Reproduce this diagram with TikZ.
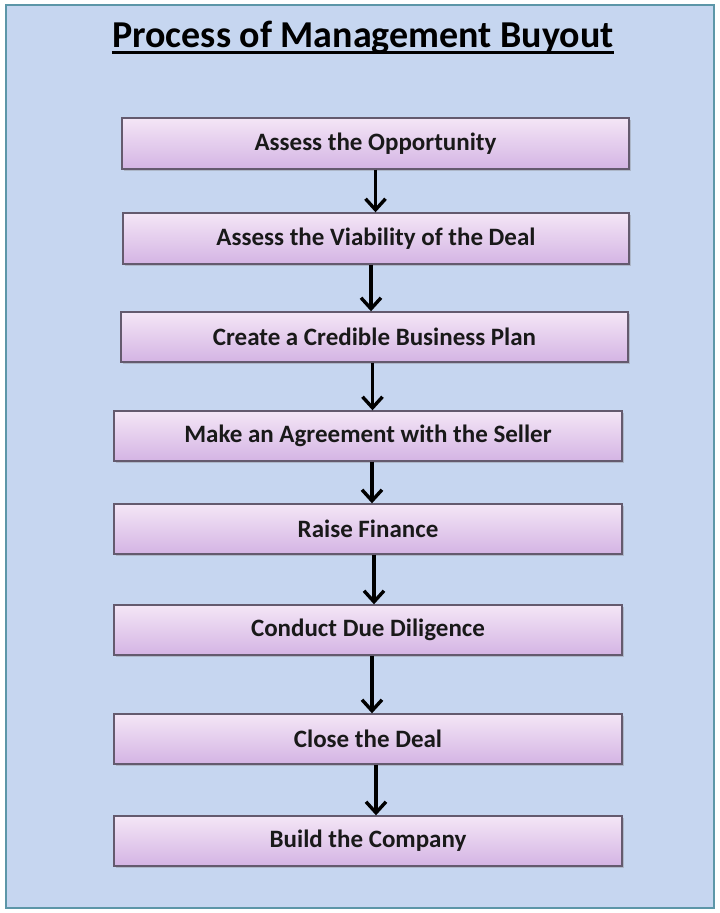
\documentclass[tikz,border=0pt]{standalone}
\usepackage{fontspec}
\setmainfont{Carlito}
\usetikzlibrary{arrows.meta,shadows}
\definecolor{bgfill}{RGB}{198,214,240}
\definecolor{frameline}{RGB}{92,150,168}
\definecolor{boxtop}{RGB}{244,230,246}
\definecolor{boxbot}{RGB}{212,180,228}
\definecolor{boxline}{RGB}{100,90,110}
\tikzset{
  stepbox/.style={draw=boxline, line width=1.4pt, top color=boxtop, bottom color=boxbot,
    minimum height=50pt, inner sep=0pt, font=\bfseries\fontsize{25}{28}\selectfont,
    text=black!90, drop shadow={shadow xshift=2pt, shadow yshift=-2pt, opacity=0.35}},
  flowarrow/.style={line width=3.4pt, -{Straight Barb[length=11pt,width=20pt]}}
}
\begin{document}
\begin{tikzpicture}[x=1pt,y=-1pt]
\useasboundingbox (0,0) rectangle (720,913);
\fill[white] (0,0) rectangle (720,913);
\draw[frameline, line width=2.4pt, fill=bgfill] (6,5) rectangle (714,908);
\node[font=\bfseries\fontsize{38}{42}\selectfont, inner sep=0pt, anchor=base] (title) at (363,47) {Process of Management Buyout};
\draw[line width=2.5pt] ([yshift=-5.5pt]title.base west) -- ([yshift=-5.5pt]title.base east);
\node[stepbox, minimum width=507pt, minimum height=51pt] (b1) at (375.5,143.5) {Assess the Opportunity};
\node[stepbox, minimum width=506pt, minimum height=51pt] (b2) at (376,238.5) {Assess the Viability of the Deal};
\node[stepbox, minimum width=507pt] (b3) at (374.5,337) {Create a Credible Business Plan};
\node[stepbox, minimum width=508pt] (b4) at (368,436) {Make an Agreement with the Seller};
\node[stepbox, minimum width=508pt] (b5) at (368,529) {Raise Finance};
\node[stepbox, minimum width=508pt] (b6) at (368,630) {Conduct Due Diligence};
\node[stepbox, minimum width=508pt] (b7) at (368,739) {Close the Deal};
\node[stepbox, minimum width=508pt] (b8) at (368,841) {Build the Company};
\draw[flowarrow] (b1.south) -- (b1.south |- b2.north);
\draw[flowarrow] ([xshift=-5pt]b2.south) -- ([xshift=-5pt]b2.south |- b3.north);
\draw[flowarrow] ([xshift=-2pt]b3.south) -- ([xshift=-2pt]b3.south |- b4.north);
\draw[flowarrow] ([xshift=4pt]b4.south) -- ([xshift=4pt]b4.south |- b5.north);
\draw[flowarrow] ([xshift=6pt]b5.south) -- ([xshift=6pt]b5.south |- b6.north);
\draw[flowarrow] ([xshift=4pt]b6.south) -- ([xshift=4pt]b6.south |- b7.north);
\draw[flowarrow] ([xshift=8pt]b7.south) -- ([xshift=8pt]b7.south |- b8.north);
\end{tikzpicture}
\end{document}
